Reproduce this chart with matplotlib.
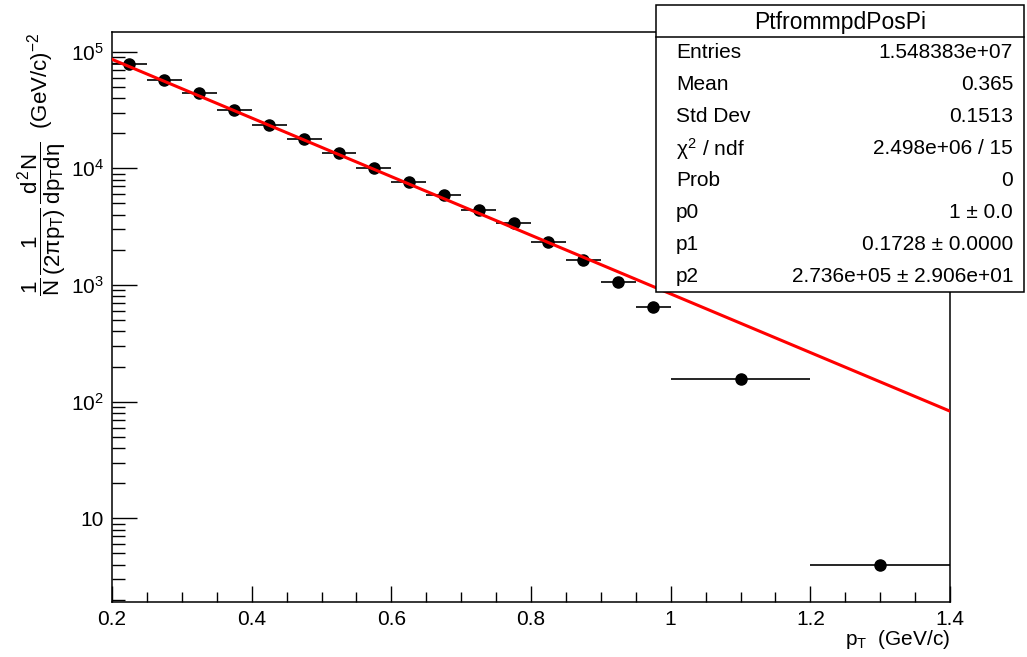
import numpy as np
import matplotlib
matplotlib.use("Agg")
import matplotlib.pyplot as plt
from matplotlib.patches import Rectangle
from matplotlib.ticker import FixedLocator, MultipleLocator, FuncFormatter, LogLocator, NullFormatter

plt.rcParams['font.family'] = ['Liberation Sans', 'DejaVu Sans']
plt.rcParams['mathtext.fontset'] = 'custom'
plt.rcParams['mathtext.rm'] = 'Liberation Sans'
plt.rcParams['mathtext.it'] = 'Liberation Sans'
plt.rcParams['mathtext.sf'] = 'Liberation Sans'
plt.rcParams['mathtext.bf'] = 'Liberation Sans:bold'

# histogram bins (pT, GeV/c) and contents
bin_lo = [0.20, 0.25, 0.30, 0.35, 0.40, 0.45, 0.50, 0.55, 0.60,
          0.65, 0.70, 0.75, 0.80, 0.85, 0.90, 0.95, 1.00, 1.20]
bin_hi = [0.25, 0.30, 0.35, 0.40, 0.45, 0.50, 0.55, 0.60, 0.65,
          0.70, 0.75, 0.80, 0.85, 0.90, 0.95, 1.00, 1.20, 1.40]
counts = [7.8e4, 5.7e4, 4.4e4, 3.15e4, 2.36e4, 1.8e4, 1.36e4, 1.0e4, 7.7e3,
          5.9e3, 4.4e3, 3.4e3, 2.35e3, 1.64e3, 1.07e3, 650, 155, 3.95]

# fit result (exponential), parameters from the stats box
fit_p1 = 0.1728
fit_p2 = 2.736e5
fit_range = (0.2, 1.4)

stats_title = "PtfrommpdPosPi"
stats_names = ["Entries", "Mean", "Std Dev", r"$\chi^{2}$ / ndf", "Prob", "p0", "p1", "p2"]
stats_values = ["1.548383e+07", "0.365", "0.1513", "2.498e+06 / 15", "0",
                "1 \u00b1 0.0", "0.1728 \u00b1 0.0000", "2.736e+05 \u00b1 2.906e+01"]

W, H = 1027, 657
fig = plt.figure(figsize=(W / 100, H / 100), dpi=100)
ax = fig.add_axes([112 / W, 1 - 602 / H, (950 - 112) / W, (602 - 32) / H])

lo = np.array(bin_lo)
hi = np.array(bin_hi)
centers = (lo + hi) / 2
half = (hi - lo) / 2

ax.errorbar(centers, counts, xerr=half, fmt='o', color='black', ms=8,
            elinewidth=1.2, capsize=0, zorder=3)

xf = np.linspace(fit_range[0], fit_range[1], 200)
ax.plot(xf, fit_p2 * np.exp(-xf / fit_p1), color='red', lw=2.2, zorder=4)

ax.set_yscale('log')
ax.set_xlim(0.2, 1.4)
ax.set_ylim(1.917, 1.475e5)

ax.xaxis.set_major_locator(MultipleLocator(0.2))
ax.xaxis.set_minor_locator(MultipleLocator(0.05))
ax.xaxis.set_major_formatter(FuncFormatter(lambda v, p: ("%g" % round(v, 2))))
ax.yaxis.set_major_locator(FixedLocator([10, 1e2, 1e3, 1e4, 1e5]))
ax.yaxis.set_minor_locator(LogLocator(base=10, subs=np.arange(2, 10)))
ax.yaxis.set_minor_formatter(NullFormatter())
ax.yaxis.set_major_formatter(FuncFormatter(
    lambda v, p: "10" if abs(v - 10) < 1e-6 else r"$10^{%d}$" % round(np.log10(v))))

ax.tick_params(axis='x', which='major', direction='in', length=11.5, width=1, labelsize=15, pad=6)
ax.tick_params(axis='x', which='minor', direction='in', length=7, width=1)
ax.tick_params(axis='y', which='major', direction='in', length=18, width=1, labelsize=15, pad=6)
ax.tick_params(axis='y', which='minor', direction='in', length=9, width=1)
for s in ax.spines.values():
    s.set_linewidth(1.1)

fig.text(950 / W, 1 - 645 / H, r"$p_{T}$  (GeV/c)", ha='right', va='baseline', fontsize=15)
fig.text(42 / W, 1 - 33 / H,
         r"$\dfrac{1}{N}\,\dfrac{1}{(2\pi p_{T})}\,\dfrac{d^{2}N}{dp_{T}d\eta}$  (GeV/c)$^{-2}$",
         rotation=90, ha='center', va='top', fontsize=16)

# stats box drawn in pixel coordinates
ov = fig.add_axes([0, 0, 1, 1], zorder=10)
ov.set_xlim(0, W)
ov.set_ylim(H, 0)
ov.axis('off')
bx0, bx1, by0, by1, ytitle = 656, 1024, 5, 292, 37
ov.add_patch(Rectangle((bx0, by0), bx1 - bx0, by1 - by0, facecolor='white',
                       edgecolor='black', lw=1.1))
ov.plot([bx0, bx1], [ytitle, ytitle], color='black', lw=1.1)
ov.text((bx0 + bx1) / 2, (by0 + ytitle) / 2 + 1, stats_title, ha='center', va='center', fontsize=16.5)
row_h = (by1 - ytitle) / len(stats_names)
for i, (n, v) in enumerate(zip(stats_names, stats_values)):
    yc = ytitle + row_h * (i + 0.5)
    ov.text(676, yc, n, ha='left', va='center', fontsize=15)
    ov.text(1013, yc, v, ha='right', va='center', fontsize=15)

fig.savefig("out.png", dpi=100)
